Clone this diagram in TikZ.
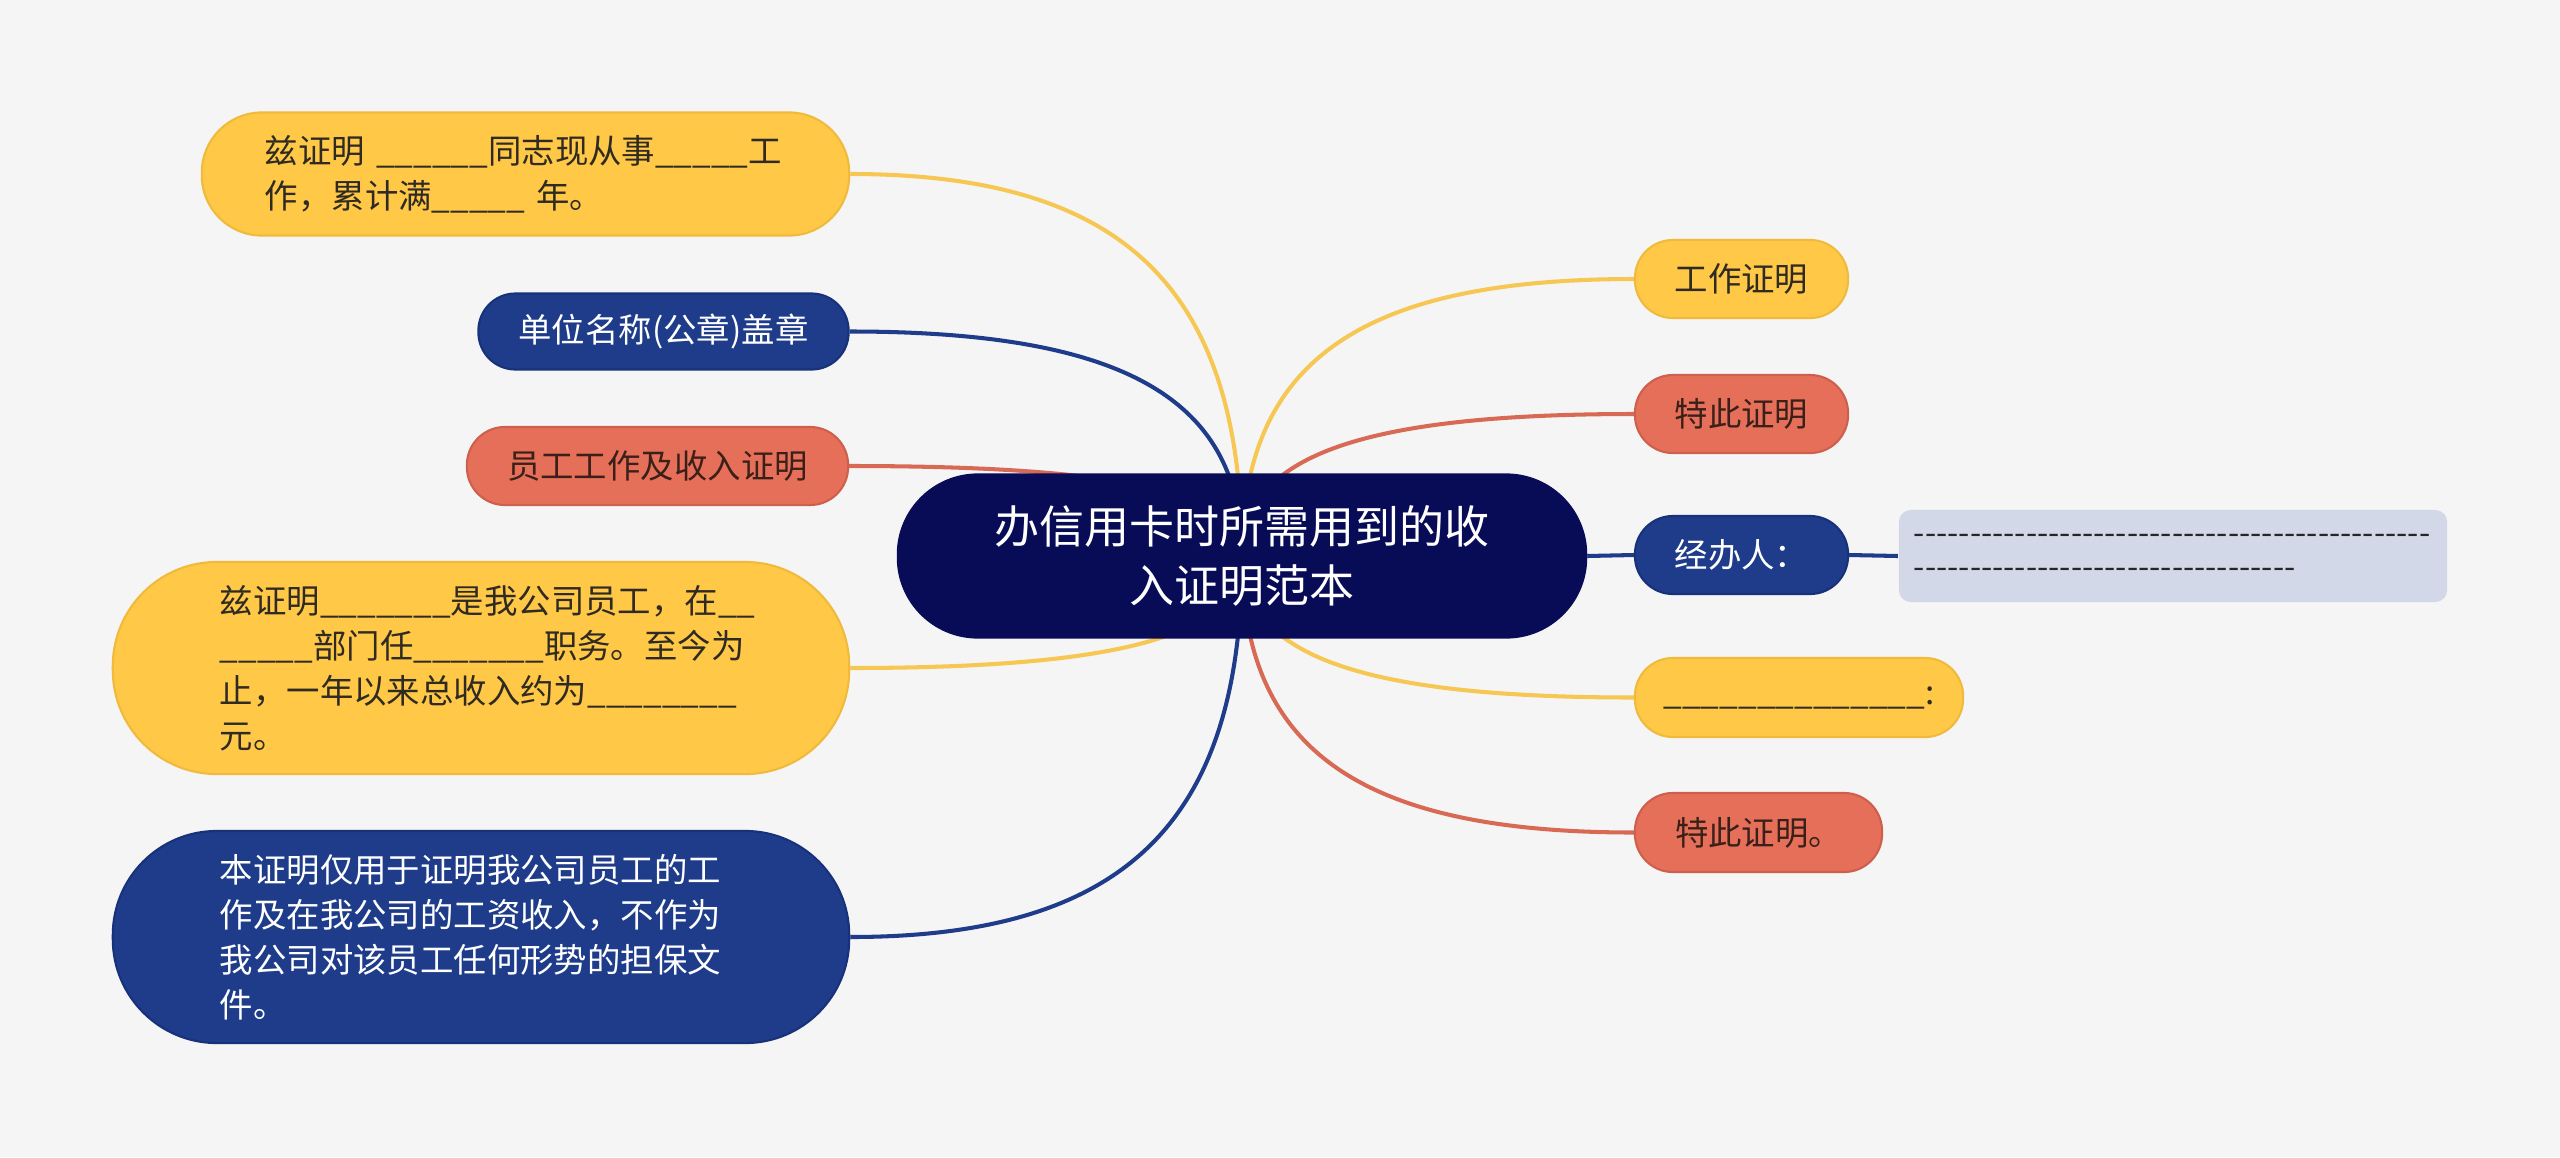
\documentclass[tikz,border=0pt]{standalone}
\usepackage{fontspec}
\newfontfamily\cjk{Noto Sans CJK SC}
\usetikzlibrary{backgrounds,calc}
\definecolor{bgc}{HTML}{F5F5F5}
\definecolor{ylw}{HTML}{FFC847}
\definecolor{ylwline}{HTML}{F6C752}
\definecolor{ylwd}{HTML}{F0BA3C}
\definecolor{redf}{HTML}{E66F5A}
\definecolor{redline}{HTML}{D86A55}
\definecolor{redd}{HTML}{CD604C}
\definecolor{blu}{HTML}{1E3C8A}
\definecolor{blud}{HTML}{17327A}
\definecolor{navy}{HTML}{080C57}
\definecolor{lbox}{HTML}{D2D8E8}
\definecolor{txtd}{HTML}{2F2A22}
\definecolor{txtr}{HTML}{3A2019}
\newcommand\rpt[2]{\foreach \k in {1,...,#1}{#2}}
\newcommand\hy{-\kern0pt}
\tikzset{
  mmbase/.style={font=\cjk\fontsize{9.5pt}{12.8pt}\selectfont, inner sep=0pt, line width=0.6pt},
  nyel/.style={mmbase, fill=ylw, draw=ylwd, text=txtd},
  nred/.style={mmbase, fill=redf, draw=redd, text=txtr},
  nblu/.style={mmbase, fill=blu, draw=blud, text=white},
  conn/.style={line width=1.15pt},
  hv/.style={to path={let \p1=(\tikztostart), \p2=(\tikztotarget) in
     .. controls ({\x1+0.7*(\x2-\x1)},{\y1}) and ({\x2},{\y2+0.7*(\y1-\y2)}) .. (\tikztotarget)}},
}
\begin{document}
\begin{tikzpicture}[x=0.01cm,y=-0.01cm]
\useasboundingbox (0,0) rectangle (2560,1157);

% center
\node[mmbase, fill=navy, draw=navy, text=white, font=\cjk\fontsize{12.8pt}{17pt}\selectfont,
  minimum width=6.88cm, minimum height=1.63cm, rounded corners=0.8cm, align=center]
  (C) at (1242,556) {办信用卡时所需用到的收\\入证明范本};

% left
\node[nyel, minimum width=6.47cm, minimum height=1.23cm, rounded corners=0.6cm,
  text width=5.21cm, align=left] (L1) at (525.5,174)
  {兹证明 \rpt{6}{\_}同志现从事\rpt{5}{\_}工\\作，累计满\rpt{5}{\_} 年。};
\node[nblu, minimum width=3.70cm, minimum height=0.76cm, rounded corners=0.37cm]
  (L2) at (663.5,331.5) {单位名称(公章)盖章};
\node[nred, minimum width=3.81cm, minimum height=0.78cm, rounded corners=0.38cm]
  (L3) at (657.5,466) {员工工作及收入证明};
\node[nyel, minimum width=7.36cm, minimum height=2.12cm, rounded corners=1.04cm,
  text width=5.22cm, align=left] (L4) at (481,668)
  {兹证明\rpt{7}{\_}是我公司员工，在\rpt{2}{\_}\\\rpt{5}{\_}部门任\rpt{7}{\_}职务。至今为\\止，一年以来总收入约为\rpt{8}{\_}\\元。};
\node[nblu, minimum width=7.36cm, minimum height=2.12cm, rounded corners=1.04cm,
  text width=5.22cm, align=left] (L5) at (481,937)
  {本证明仅用于证明我公司员工的工\\作及在我公司的工资收入，不作为\\我公司对该员工任何形势的担保文\\件。};

% right
\node[nyel, minimum width=2.13cm, minimum height=0.78cm, rounded corners=0.38cm]
  (R1) at (1741.5,279) {工作证明};
\node[nred, minimum width=2.13cm, minimum height=0.78cm, rounded corners=0.38cm]
  (R2) at (1741.5,414) {特此证明};
\node[nblu, minimum width=2.13cm, minimum height=0.78cm, rounded corners=0.38cm]
  (R3) at (1741.5,555) {经办人：};
\node[mmbase, fill=lbox, text=black!85, font=\cjk\fontsize{9.2pt}{9.7pt}\selectfont,
  minimum width=5.48cm, minimum height=0.92cm, rounded corners=0.12cm,
  text width=5.18cm, align=left] (X) at (2173,556)
  {\mbox{\rpt{46}{\hy}}\\\mbox{\rpt{34}{\hy}}};
\node[nyel, minimum width=3.28cm, minimum height=0.79cm, rounded corners=0.38cm]
  (R4) at (1799,697.5) {\rpt{14}{\_}:};
\node[nred, minimum width=2.47cm, minimum height=0.79cm, rounded corners=0.38cm]
  (R5) at (1758.5,832.5) {特此证明。};

\begin{pgfonlayer}{background}
\fill[bgc] (0,0) rectangle (2560,1157);
\draw[conn, ylwline] (L1.east) to[hv] (C.center);
\draw[conn, blu] (L2.east) to[hv] (C.center);
\draw[conn, redline] (L3.east) to[hv] (C.center);
\draw[conn, ylwline] (L4.east) to[hv] (C.center);
\draw[conn, blu] (L5.east) to[hv] (C.center);
\draw[conn, ylwline] (R1.west) to[hv] (C.center);
\draw[conn, redline] (R2.west) to[hv] (C.center);
\draw[conn, blu] (C.east) -- (R3.west);
\draw[conn, blu] (R3.east) -- (X.west);
\draw[conn, ylwline] (R4.west) to[hv] (C.center);
\draw[conn, redline] (R5.west) to[hv] (C.center);
\end{pgfonlayer}
\end{tikzpicture}
\end{document}
